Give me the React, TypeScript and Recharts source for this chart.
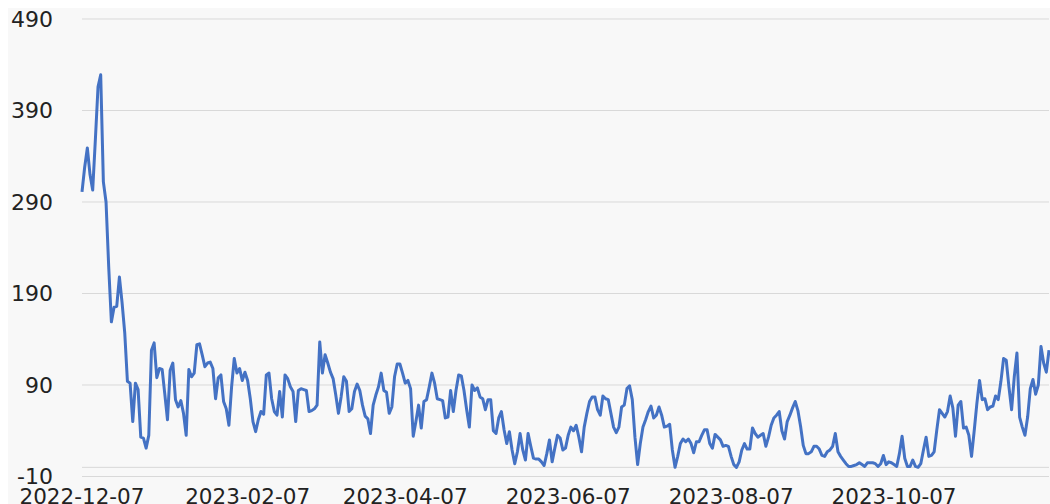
import { CartesianGrid, Line, LineChart, ReferenceLine, XAxis, YAxis } from "recharts";

// daily values, starting 2022-12-07
const VALUES = [
  301, 328, 349, 320, 303, 358, 416, 429, 312, 290,
  219, 159, 175, 176, 208, 180, 147, 94, 92, 50,
  92, 85, 33, 32, 21, 35, 128, 136, 98, 108,
  107, 80, 52, 106, 114, 74, 66, 73, 59, 35,
  107, 99, 103, 134, 135, 123, 110, 114, 115, 108,
  75, 98, 101, 72, 64, 46, 88, 119, 103, 108,
  95, 104, 95, 75, 50, 39, 52, 61, 58, 101,
  103, 75, 61, 57, 83, 55, 101, 97, 88, 83,
  50, 84, 86, 85, 84, 61, 62, 64, 68, 137,
  103, 123, 114, 104, 97, 79, 59, 77, 99, 94,
  61, 64, 83, 91, 84, 68, 56, 53, 37, 68,
  79, 88, 103, 84, 82, 59, 66, 99, 113, 113,
  103, 92, 95, 86, 34, 50, 68, 43, 72, 74,
  88, 103, 92, 75, 74, 73, 54, 55, 84, 61,
  84, 101, 100, 84, 63, 44, 90, 84, 87, 77,
  75, 63, 74, 74, 40, 37, 54, 61, 41, 26,
  39, 19, 4, 17, 37, 19, 8, 37, 23, 10,
  9, 9, 6, 2, 15, 30, 6, 21, 35, 32,
  19, 21, 35, 44, 40, 46, 33, 17, 44, 59,
  72, 77, 77, 63, 57, 78, 75, 74, 59, 44,
  38, 44, 66, 68, 86, 89, 74, 33, 3, 26,
  44, 52, 61, 67, 54, 57, 66, 57, 44, 45,
  47, 19, 0, 12, 26, 31, 28, 31, 26, 16,
  28, 28, 35, 41, 41, 26, 21, 36, 33, 30,
  23, 24, 23, 12, 3, 0, 6, 19, 26, 20,
  20, 43, 37, 33, 35, 37, 23, 33, 46, 54,
  57, 61, 40, 31, 50, 57, 65, 72, 62, 45,
  24, 15, 15, 17, 23, 23, 20, 13, 12, 17,
  19, 23, 37, 17, 12, 8, 4, 1, 1, 2,
  3, 5, 3, 1, 5, 5, 5, 4, 1, 4,
  13, 3, 6, 5, 3, 1, 15, 34, 10, 1,
  1, 8, 1, 0, 4, 19, 33, 12, 13, 17,
  41, 63, 59, 55, 61, 78, 65, 34, 68, 72,
  43, 44, 35, 12, 40, 70, 95, 74, 75, 63,
  66, 67, 78, 74, 94, 119, 117, 88, 63, 99,
  125, 55, 44, 35, 55, 86, 96, 80, 90, 132,
  114, 104, 128,
];

// day offsets from 2022-12-07 and their labels
const TICK_DAYS = [0, 62, 121, 182, 243, 304];
const TICK_LABELS = ["2022-12-07", "2023-02-07", "2023-04-07", "2023-06-07", "2023-08-07", "2023-10-07"];
const Y_TICKS = [-10, 90, 190, 290, 390, 490];

const data = VALUES.map((value, day) => ({ day, value }));

const FONT = "'DejaVu Sans', Verdana, sans-serif";

export default function App() {
  return (
    <div style={{ position: "fixed", left: 8, top: 8, width: 1042, height: 496, overflow: "hidden", background: "#f8f8f8", fontFamily: FONT }}>
      <LineChart width={1042} height={500} data={data} margin={{ top: 11, right: 1, bottom: 0, left: 0 }}>
        <CartesianGrid vertical={false} stroke="#d9d9d9" />
        <XAxis
          type="number"
          dataKey="day"
          domain={[0, VALUES.length - 1]}
          ticks={TICK_DAYS}
          interval={0}
          tickFormatter={(d) => TICK_LABELS[TICK_DAYS.indexOf(d)]}
          axisLine={false}
          tickLine={false}
          tickSize={0}
          tickMargin={12}
          height={31.5}
          tick={{ fill: "#222", fontSize: 21.5, fontFamily: FONT }}
        />
        <YAxis
          type="number"
          domain={[-10, 490]}
          ticks={Y_TICKS}
          interval={0}
          axisLine={false}
          tickLine={false}
          tickSize={0}
          tickMargin={29}
          width={74}
          tick={{ fill: "#222", fontSize: 22, fontFamily: FONT }}
        />
        <ReferenceLine y={0} stroke="#d9d9d9" />
        <Line
          type="linear"
          dataKey="value"
          stroke="#4472c4"
          strokeWidth={3}
          strokeLinejoin="round"
          dot={false}
          isAnimationActive={false}
        />
      </LineChart>
    </div>
  );
}
